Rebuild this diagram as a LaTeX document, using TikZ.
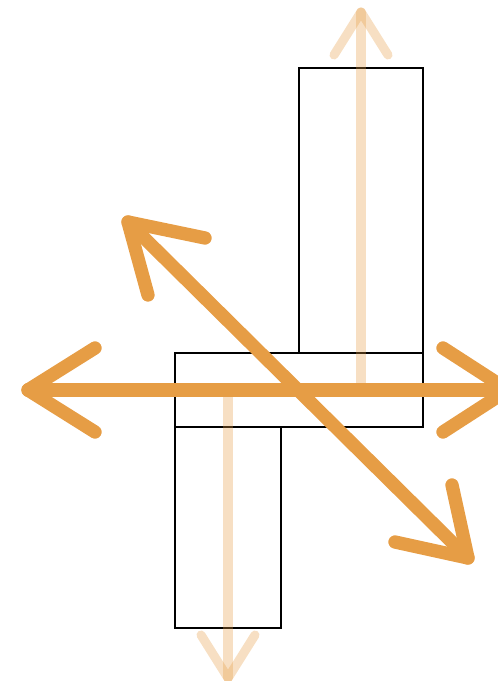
\documentclass[tikz,border=0pt]{standalone}
\begin{document}
\begin{tikzpicture}[x=0.75pt,y=-0.75pt,
  box/.style={draw=black,line width=1.6pt},
  bold/.style={draw={rgb,255:red,230;green,157;blue,69},line width=10pt,line cap=round,line join=round},
  pale/.style={draw={rgb,255:red,230;green,157;blue,69},draw opacity=0.32,line width=6.8pt,line cap=round,line join=round}]
\useasboundingbox (0,0) rectangle (497,681);
% rectangles
\draw[box] (299,68) rectangle (423,353);
\draw[box] (175,353) rectangle (423,427);
\draw[box] (175,427) rectangle (281,628);
% pale vertical arrows
\coordinate (ut) at (361,12);
\coordinate (ub) at (361,390);
\coordinate (ua1) at (334,55);
\coordinate (ua2) at (388,55);
\draw[pale] (ub) -- (ut);
\draw[pale] (ua1) -- (ut) -- (ua2);
\coordinate (dt) at (228,390);
\coordinate (db) at (228,678);
\coordinate (da1) at (201,635);
\coordinate (da2) at (255,635);
\draw[pale] (dt) -- (db);
\draw[pale] (da1) -- (db) -- (da2);
% horizontal double arrow
\coordinate (hl) at (28,390);
\coordinate (hr) at (508,390);
\draw[bold] (hl) -- (hr);
\draw[bold] (95,348) -- (hl) -- (95,432);
\draw[bold] (443,348) -- (hr) -- (443,432);
% diagonal double arrow
\coordinate (gl) at (128,222);
\coordinate (gr) at (468,558);
\draw[bold] (gl) -- (gr);
\draw[bold] (205,238) -- (gl) -- (148,295);
\draw[bold] (452,485) -- (gr) -- (395,542);
\end{tikzpicture}
\end{document}
